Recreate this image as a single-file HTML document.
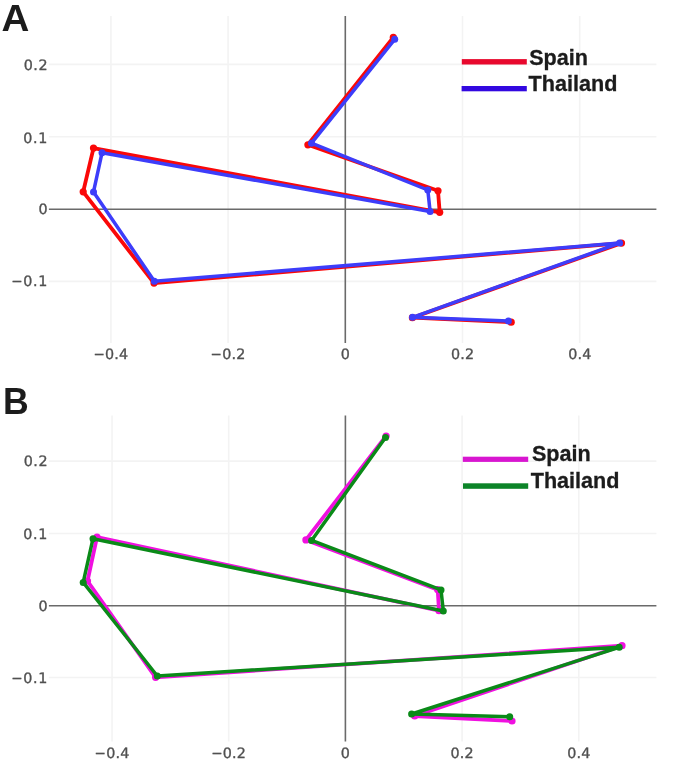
<!DOCTYPE html>
<html><head><meta charset="utf-8"><title>Figure</title>
<style>
html,body{margin:0;padding:0;background:#fff;}
body{width:688px;height:762px;overflow:hidden;position:relative;}
svg{position:absolute;left:0;top:0;display:block;}
.g{stroke:#f3f3f3;stroke-width:1.6;}
.z{stroke:#6a6a6a;stroke-width:1.6;}
.t{font-family:"DejaVu Sans","Liberation Sans",sans-serif;font-size:14.3px;letter-spacing:0.2px;fill:#505050;stroke:#505050;stroke-width:0.35px;text-rendering:geometricPrecision;}
.p{font-family:"Liberation Sans",sans-serif;font-weight:bold;font-size:36px;fill:#1c1c1c;}
.l{font-family:"Liberation Sans",sans-serif;font-weight:bold;font-size:21.6px;fill:#1c1c1c;stroke:#1c1c1c;stroke-width:0.3px;}
</style></head><body>
<svg width="688" height="762" viewBox="0 0 688 762">
<rect width="688" height="762" fill="#fff"/>
<g id="panelA">
<line x1="110.90" y1="16.1" x2="110.90" y2="343.0" class="g"/>
<line x1="228.10" y1="16.1" x2="228.10" y2="343.0" class="g"/>
<line x1="462.50" y1="16.1" x2="462.50" y2="343.0" class="g"/>
<line x1="579.70" y1="16.1" x2="579.70" y2="343.0" class="g"/>
<line x1="48.9" y1="64.40" x2="656.4" y2="64.40" class="g"/>
<line x1="48.9" y1="136.80" x2="656.4" y2="136.80" class="g"/>
<line x1="48.9" y1="281.40" x2="656.4" y2="281.40" class="g"/>
<line x1="345.3" y1="16.1" x2="345.3" y2="343.0" class="z"/>
<line x1="48.9" y1="209.2" x2="656.4" y2="209.2" class="z"/>
<text x="48.00" y="70.00" text-anchor="end" class="t" style="letter-spacing:0.5px">0.2</text>
<text x="48.10" y="142.50" text-anchor="end" class="t" style="letter-spacing:0.7px">0.1</text>
<text x="48.00" y="214.20" text-anchor="end" class="t" style="letter-spacing:0.5px">0</text>
<text x="48.10" y="286.40" text-anchor="end" class="t" style="letter-spacing:0.7px">0.1</text><text transform="translate(22.76 286.40) scale(0.95 1)" text-anchor="end" class="t">−</text>
<text x="105.00" y="358.50" class="t">0.4</text><text transform="translate(105.00 358.50) scale(0.95 1)" text-anchor="end" class="t">−</text>
<text x="222.20" y="358.50" class="t">0.2</text><text transform="translate(222.20 358.50) scale(0.95 1)" text-anchor="end" class="t">−</text>
<text x="345.40" y="358.50" text-anchor="middle" class="t">0</text>
<text x="462.60" y="358.50" text-anchor="middle" class="t">0.2</text>
<text x="579.80" y="358.50" text-anchor="middle" class="t">0.4</text>
<polyline points="393.3,37.4 307.9,144.8 438.0,190.8 439.7,212.3 93.5,148.1 83.2,191.8 154.0,283.1 621.5,243.1 412.4,317.7 511.2,322.2" fill="none" stroke="#fa0808" stroke-width="3.8" stroke-linejoin="round" stroke-linecap="round"/><circle cx="393.3" cy="37.4" r="3.6" fill="#fa0808"/><circle cx="307.9" cy="144.8" r="3.6" fill="#fa0808"/><circle cx="438.0" cy="190.8" r="3.6" fill="#fa0808"/><circle cx="439.7" cy="212.3" r="3.6" fill="#fa0808"/><circle cx="93.5" cy="148.1" r="3.6" fill="#fa0808"/><circle cx="83.2" cy="191.8" r="3.6" fill="#fa0808"/><circle cx="154.0" cy="283.1" r="3.6" fill="#fa0808"/><circle cx="621.5" cy="243.1" r="3.6" fill="#fa0808"/><circle cx="412.4" cy="317.7" r="3.6" fill="#fa0808"/><circle cx="511.2" cy="322.2" r="3.6" fill="#fa0808"/>
<polyline points="394.7,39.3 311.5,143.2 427.8,190.0 430.1,211.5 102.0,152.8 93.5,191.9 154.4,281.3 619.6,243.1 412.5,317.3 508.4,321.0" fill="none" stroke="#3d3dfa" stroke-width="3.5" stroke-linejoin="round" stroke-linecap="round"/><circle cx="394.7" cy="39.3" r="3.5" fill="#3d3dfa"/><circle cx="311.5" cy="143.2" r="3.5" fill="#3d3dfa"/><circle cx="427.8" cy="190.0" r="3.5" fill="#3d3dfa"/><circle cx="430.1" cy="211.5" r="3.5" fill="#3d3dfa"/><circle cx="102.0" cy="152.8" r="3.5" fill="#3d3dfa"/><circle cx="93.5" cy="191.9" r="3.5" fill="#3d3dfa"/><circle cx="154.4" cy="281.3" r="3.5" fill="#3d3dfa"/><circle cx="619.6" cy="243.1" r="3.5" fill="#3d3dfa"/><circle cx="412.5" cy="317.3" r="3.5" fill="#3d3dfa"/><circle cx="508.4" cy="321.0" r="3.5" fill="#3d3dfa"/>
<rect x="461.8" y="59.1" width="65" height="5.4" fill="#e8082d"/>
<rect x="461.6" y="86" width="65.2" height="5.3" fill="#3208e0"/>
<text transform="translate(529.2 64.9) scale(1 1.04)" class="l">Spain</text>
<text transform="translate(528.6 90.5) scale(1 1.04)" class="l">Thailand</text>
<text transform="translate(1.6 31.2) scale(1.06 1)" x="0" y="0" class="p" style="font-size:36.4px">A</text>
</g>
<g id="panelB">
<line x1="112.04" y1="415.6" x2="112.04" y2="741.6" class="g"/>
<line x1="228.72" y1="415.6" x2="228.72" y2="741.6" class="g"/>
<line x1="462.08" y1="415.6" x2="462.08" y2="741.6" class="g"/>
<line x1="578.76" y1="415.6" x2="578.76" y2="741.6" class="g"/>
<line x1="48.9" y1="461.10" x2="656.4" y2="461.10" class="g"/>
<line x1="48.9" y1="533.50" x2="656.4" y2="533.50" class="g"/>
<line x1="48.9" y1="677.50" x2="656.4" y2="677.50" class="g"/>
<line x1="345.4" y1="415.6" x2="345.4" y2="741.6" class="z"/>
<line x1="48.9" y1="605.7" x2="656.4" y2="605.7" class="z"/>
<text x="48.00" y="466.40" text-anchor="end" class="t" style="letter-spacing:0.5px">0.2</text>
<text x="48.10" y="539.20" text-anchor="end" class="t" style="letter-spacing:0.7px">0.1</text>
<text x="48.00" y="610.50" text-anchor="end" class="t" style="letter-spacing:0.5px">0</text>
<text x="48.10" y="682.70" text-anchor="end" class="t" style="letter-spacing:0.7px">0.1</text><text transform="translate(22.76 682.70) scale(0.95 1)" text-anchor="end" class="t">−</text>
<text x="106.14" y="757.90" class="t">0.4</text><text transform="translate(106.14 757.90) scale(0.95 1)" text-anchor="end" class="t">−</text>
<text x="222.82" y="757.90" class="t">0.2</text><text transform="translate(222.82 757.90) scale(0.95 1)" text-anchor="end" class="t">−</text>
<text x="345.50" y="757.90" text-anchor="middle" class="t">0</text>
<text x="462.18" y="757.90" text-anchor="middle" class="t">0.2</text>
<text x="578.86" y="757.90" text-anchor="middle" class="t">0.4</text>
<polyline points="386.1,436.0 305.9,539.9 437.7,589.7 439.0,610.7 97.0,537.0 87.5,581.0 155.6,677.3 622.0,645.7 414.7,716.0 512.0,721.0" fill="none" stroke="#f010e0" stroke-width="3.8" stroke-linejoin="round" stroke-linecap="round"/><circle cx="386.1" cy="436.0" r="3.6" fill="#f010e0"/><circle cx="305.9" cy="539.9" r="3.6" fill="#f010e0"/><circle cx="437.7" cy="589.7" r="3.6" fill="#f010e0"/><circle cx="439.0" cy="610.7" r="3.6" fill="#f010e0"/><circle cx="97.0" cy="537.0" r="3.6" fill="#f010e0"/><circle cx="87.5" cy="581.0" r="3.6" fill="#f010e0"/><circle cx="155.6" cy="677.3" r="3.6" fill="#f010e0"/><circle cx="622.0" cy="645.7" r="3.6" fill="#f010e0"/><circle cx="414.7" cy="716.0" r="3.6" fill="#f010e0"/><circle cx="512.0" cy="721.0" r="3.6" fill="#f010e0"/>
<polyline points="385.5,437.4 311.6,540.4 441.0,589.9 443.3,611.0 93.0,538.7 83.2,582.4 157.3,676.0 619.2,647.3 411.6,714.0 509.7,716.7" fill="none" stroke="#0a8a18" stroke-width="3.5" stroke-linejoin="round" stroke-linecap="round"/><circle cx="385.5" cy="437.4" r="3.5" fill="#0a8a18"/><circle cx="311.6" cy="540.4" r="3.5" fill="#0a8a18"/><circle cx="441.0" cy="589.9" r="3.5" fill="#0a8a18"/><circle cx="443.3" cy="611.0" r="3.5" fill="#0a8a18"/><circle cx="93.0" cy="538.7" r="3.5" fill="#0a8a18"/><circle cx="83.2" cy="582.4" r="3.5" fill="#0a8a18"/><circle cx="157.3" cy="676.0" r="3.5" fill="#0a8a18"/><circle cx="619.2" cy="647.3" r="3.5" fill="#0a8a18"/><circle cx="411.6" cy="714.0" r="3.5" fill="#0a8a18"/><circle cx="509.7" cy="716.7" r="3.5" fill="#0a8a18"/>
<rect x="462.8" y="456.7" width="65.4" height="5.2" fill="#d816d0"/>
<rect x="463" y="483.3" width="65.2" height="5.5" fill="#0c8428"/>
<text transform="translate(531.9 460.9) scale(1 1.04)" class="l">Spain</text>
<text transform="translate(530.7 488.4) scale(1 1.04)" class="l">Thailand</text>
<text transform="translate(2.95 414.4) scale(1.01 1.07)" x="0" y="0" class="p" style="font-size:35.3px">B</text>
</g>
</svg>
</body></html>
